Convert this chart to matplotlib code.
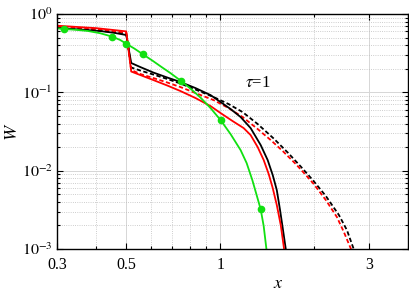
import matplotlib
matplotlib.use('Agg')
import matplotlib.pyplot as plt
from matplotlib.ticker import FixedLocator, NullFormatter, LogLocator

plt.rcParams['font.family'] = ['Liberation Serif', 'DejaVu Serif']
plt.rcParams['mathtext.fontset'] = 'stix'

# black solid
bs_x = [0.3, 0.3557, 0.4124, 0.4609, 0.5, 0.5188, 0.5546, 0.6105, 0.6773, 0.7459, 0.8334, 0.9314,
        1.003, 1.080, 1.163, 1.252, 1.349, 1.420, 1.474, 1.519, 1.556, 1.587, 1.623, 1.64]
bs_w = [0.6625, 0.634, 0.6066, 0.5721, 0.539, 0.2367, 0.2104, 0.1790, 0.1545, 0.1354, 0.1134, 0.0923,
        0.0752, 0.0612, 0.0484, 0.0350, 0.0212, 0.01366, 0.00879, 0.00565, 0.00314, 0.00185, 0.001, 0.0003]

# red solid
rs_x = [0.3, 0.4, 0.5, 0.5188, 0.5546, 0.6105, 0.6773, 0.7459, 0.8334, 0.9314, 1.003, 1.096,
        1.189, 1.252, 1.319, 1.379, 1.431, 1.474, 1.519, 1.564, 1.603, 1.62]
rs_w = [0.709, 0.66, 0.60, 0.1843, 0.1663, 0.1436, 0.1221, 0.1039, 0.0846, 0.0668, 0.0544, 0.0430,
        0.0350, 0.0285, 0.0200, 0.01366, 0.00905, 0.00600, 0.00364, 0.00202, 0.001, 0.0003]

# black dashed
bd_x = [0.3, 0.4, 0.5, 0.5188, 0.5546, 0.6105, 0.6773, 0.7459, 0.8334, 0.9526, 1.064, 1.180,
        1.319, 1.485, 1.647, 1.813, 1.981, 2.182, 2.403, 2.549, 2.679, 2.75]
bd_w = [0.67, 0.62, 0.565, 0.2074, 0.1899, 0.1688, 0.1479, 0.1296, 0.1086, 0.0871, 0.0709, 0.0560,
        0.0394, 0.0257, 0.01703, 0.01128, 0.00759, 0.00474, 0.00271, 0.00174, 0.001, 0.0007]

# red dashed
rd_x = [0.3, 0.4, 0.5, 0.5188, 0.5546, 0.6105, 0.6773, 0.7459, 0.8334, 0.9526, 1.064, 1.180,
        1.319, 1.452, 1.587, 1.748, 1.882, 1.996, 2.182, 2.368, 2.493, 2.626, 2.7]
rd_w = [0.69, 0.64, 0.58, 0.1927, 0.1713, 0.1523, 0.1334, 0.1168, 0.0980, 0.0797, 0.0630, 0.0484,
        0.0340, 0.0246, 0.0178, 0.01214, 0.00879, 0.00674, 0.00421, 0.00255, 0.00164, 0.001, 0.0007]

# green with markers
g_x = [0.3, 0.3167, 0.3453, 0.3774, 0.4124, 0.4518, 0.4784, 0.5, 0.5306, 0.5657, 0.6061, 0.651,
       0.6924, 0.7498, 0.803, 0.8648, 0.9314, 1.003, 1.080, 1.163, 1.216, 1.268, 1.309, 1.349,
       1.379, 1.407, 1.420]
g_w = [0.6568, 0.6434, 0.6285, 0.6066, 0.5685, 0.5129, 0.4656, 0.4175, 0.3626, 0.3057, 0.2548, 0.2086,
       0.1764, 0.1394, 0.1118, 0.0858, 0.0630, 0.0443, 0.0293, 0.0183, 0.0125, 0.00759, 0.00488, 0.00320,
       0.00196, 0.001, 0.00047]
g_marks = [1, 5, 7, 9, 13, 17, 23]

x_ticks = [0.3, 0.5, 1, 3]
x_ticklabels = ['0.3', '0.5', '1', '3']
x_minor = [0.4, 0.6, 0.7, 0.8, 0.9, 2, 4]
y_ticks = [1e-3, 1e-2, 1e-1, 1]
y_ticklabels = ['$10^{-3}$', '$10^{-2}$', '$10^{-1}$', '$10^{0}$']

fig = plt.figure(figsize=(4.09, 2.91), dpi=100)
ax = fig.add_axes([57 / 409, 42 / 291, 351 / 409, 235 / 291])

green = '#11e011'
dash = (2.4, 1.4)
ax.plot(bd_x, bd_w, color='k', lw=1.3, ls='--', dashes=dash)
ax.plot(rd_x, rd_w, color='r', lw=1.3, ls='--', dashes=dash)
ax.plot(bs_x, bs_w, color='k', lw=1.3)
ax.plot(rs_x, rs_w, color='r', lw=1.3)
ax.plot(g_x, g_w, color=green, lw=1.3, marker='o', ms=4.5, markevery=g_marks)

ax.set_xscale('log')
ax.set_yscale('log')
ax.set_xlim(0.3, 4)
ax.set_ylim(1e-3, 1)

ax.xaxis.set_major_locator(FixedLocator(x_ticks))
ax.set_xticklabels(x_ticklabels)
ax.xaxis.set_minor_locator(FixedLocator(x_minor))
ax.xaxis.set_minor_formatter(NullFormatter())
ax.yaxis.set_major_locator(FixedLocator(y_ticks))
ax.set_yticklabels(y_ticklabels)
ax.yaxis.set_minor_locator(LogLocator(base=10, subs=range(2, 10)))
ax.yaxis.set_minor_formatter(NullFormatter())

ax.tick_params(which='both', direction='in', top=True, right=True, labelsize=11.5, width=0.8)
ax.tick_params(which='major', length=4)
ax.tick_params(which='minor', length=2.2)
ax.tick_params(axis='x', pad=6)
ax.tick_params(axis='y', pad=3)

ax.grid(True, which='major', color='#d6d6d6', lw=0.7, ls='-')
ax.grid(True, which='minor', color='#bdbdbd', lw=0.6, ls=':')
ax.set_axisbelow(True)
for s in ax.spines.values():
    s.set_linewidth(1.0)

ax.text(0.63, -0.145, '$x$', transform=ax.transAxes, ha='center', va='center', fontsize=13)
ax.text(-0.128, 0.50, '$W$', transform=ax.transAxes, ha='center', va='center', fontsize=13, rotation=90)
ax.text(1.32, 0.133, r'$\tau$=1', ha='center', va='center', fontsize=12)

fig.savefig('out.png', dpi=100)
